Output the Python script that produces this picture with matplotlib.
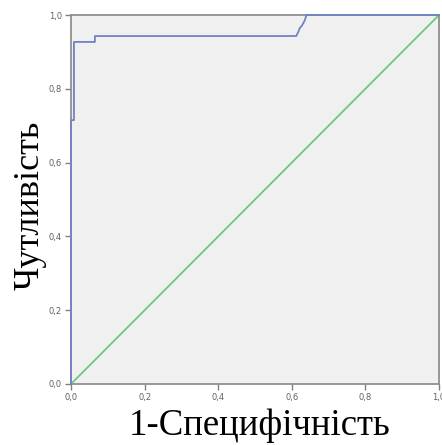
import matplotlib
matplotlib.use("Agg")
import matplotlib.pyplot as plt
import numpy as np

fpr = [0.0, 0.0, 0.008, 0.008, 0.065, 0.065, 0.612, 0.618, 0.622, 0.628, 0.635, 0.64, 1.0]
tpr = [0.0, 0.715, 0.715, 0.927, 0.927, 0.943, 0.943, 0.955, 0.965, 0.972, 0.985, 1.0, 1.0]
ref_x = [0.0, 1.0]
ref_y = [0.0, 1.0]
ticks = [0.0, 0.2, 0.4, 0.6, 0.8, 1.0]
tick_labels = ["0,0", "0,2", "0,4", "0,6", "0,8", "1,0"]

fig = plt.figure(figsize=(4.42, 4.45), dpi=100)
ax = fig.add_axes([71/442, 61/445, 368/442, 369/445])
ax.set_facecolor("#f0f0f0")
ax.plot(ref_x, ref_y, color="#6cc97a", lw=1.3, zorder=2)
ax.plot(fpr, tpr, color="#7083c4", lw=1.3, zorder=3, clip_on=False)
ax.set_xlim(0, 1)
ax.set_ylim(0, 1)
ax.set_xticks(ticks)
ax.set_xticklabels(tick_labels)
ax.set_yticks(ticks)
ax.set_yticklabels(tick_labels)
ax.tick_params(length=4, width=1, color="#808080", labelsize=6, labelcolor="#606060", pad=2.5)
for s in ax.spines.values():
    s.set_color("#909090")
    s.set_linewidth(1.3)
ax.set_xlabel("1-Специфічність", family="Liberation Serif", fontsize=26.5)
ax.xaxis.label.set_va("baseline")
ax.xaxis.set_label_coords(0.512, -0.1386)
ax.set_ylabel("Чутливість", family="Liberation Serif", fontsize=26)
ax.yaxis.label.set_va("center")
ax.yaxis.set_label_coords(-0.11, 0.484)
fig.savefig("out.png", dpi=100)
